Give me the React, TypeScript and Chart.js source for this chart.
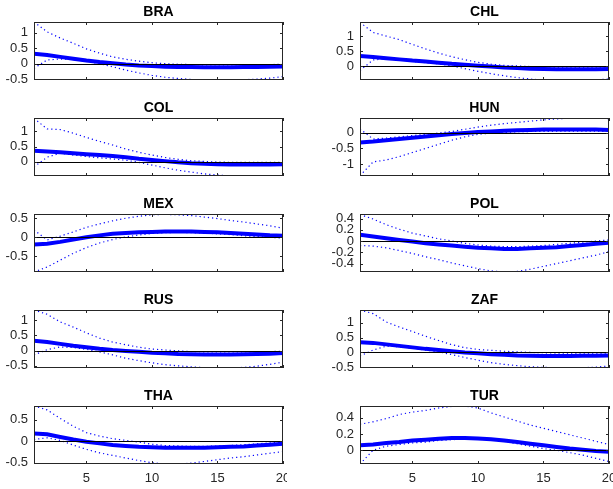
import React, { useEffect, useRef } from "react";
import { Chart, registerables } from "chart.js";

Chart.register(...registerables);

// ---------- data ----------
const horizons = [1, 2, 3, 4, 5, 6, 7, 8, 9, 10, 11, 12, 13, 14, 15, 16, 17, 18, 19, 20];
const xTicks = [5, 10, 15, 20];

const BRA_irf = [0.32, 0.28, 0.22, 0.16, 0.10, 0.05, 0.01, -0.03, -0.06, -0.08, -0.10, -0.11, -0.11, -0.12, -0.12, -0.12, -0.11, -0.11, -0.10, -0.09];
const BRA_upper = [1.35, 1.03, 0.83, 0.66, 0.48, 0.34, 0.22, 0.14, 0.08, 0.03, 0.0, -0.02, -0.03, -0.04, -0.04, -0.04, -0.04, -0.03, -0.03, -0.02];
const BRA_lower = [-0.15, 0.12, 0.15, 0.13, 0.07, 0.0, -0.10, -0.21, -0.30, -0.38, -0.44, -0.48, -0.51, -0.53, -0.53, -0.53, -0.52, -0.50, -0.47, -0.42];
const BRA_range = [-0.53, 1.35];
const BRA_yTicks = [-0.5, 0, 0.5, 1];

const CHL_irf = [0.33, 0.30, 0.26, 0.22, 0.18, 0.15, 0.11, 0.07, 0.04, 0.01, -0.02, -0.05, -0.07, -0.09, -0.10, -0.11, -0.11, -0.11, -0.11, -0.10];
const CHL_upper = [1.46, 1.12, 1.0, 0.88, 0.72, 0.57, 0.43, 0.31, 0.21, 0.12, 0.06, 0.02, 0.0, -0.02, -0.03, -0.04, -0.04, -0.04, -0.04, -0.03];
const CHL_lower = [-0.15, 0.20, 0.24, 0.20, 0.15, 0.11, 0.07, 0.0, -0.09, -0.18, -0.26, -0.33, -0.39, -0.44, -0.47, -0.47, -0.47, -0.47, -0.46, -0.44];
const CHL_range = [-0.47, 1.47];
const CHL_yTicks = [0, 0.5, 1];

const COL_irf = [0.36, 0.34, 0.31, 0.28, 0.25, 0.22, 0.19, 0.15, 0.10, 0.06, 0.02, -0.02, -0.05, -0.07, -0.08, -0.09, -0.09, -0.09, -0.09, -0.08];
const COL_upper = [1.43, 1.08, 1.06, 0.94, 0.80, 0.67, 0.55, 0.42, 0.31, 0.22, 0.14, 0.08, 0.03, 0.01, -0.01, -0.02, -0.02, -0.02, -0.02, -0.02];
const COL_lower = [-0.17, 0.15, 0.28, 0.22, 0.17, 0.13, 0.09, 0.05, -0.02, -0.11, -0.20, -0.28, -0.34, -0.40, -0.44, -0.46, -0.47, -0.47, -0.47, -0.47];
const COL_range = [-0.47, 1.44];
const COL_yTicks = [0, 0.5, 1];

const HUN_irf = [-0.31, -0.28, -0.24, -0.20, -0.16, -0.12, -0.08, -0.04, -0.01, 0.02, 0.04, 0.06, 0.08, 0.09, 0.10, 0.10, 0.10, 0.10, 0.10, 0.09];
const HUN_upper = [0.12, -0.20, -0.17, -0.13, -0.09, -0.05, -0.01, 0.04, 0.11, 0.18, 0.24, 0.29, 0.33, 0.37, 0.41, 0.44, 0.46, 0.46, 0.46, 0.45];
const HUN_lower = [-1.37, -0.93, -0.87, -0.76, -0.63, -0.50, -0.37, -0.24, -0.13, -0.05, -0.01, 0.01, 0.03, 0.04, 0.04, 0.05, 0.05, 0.05, 0.05, 0.04];
const HUN_range = [-1.38, 0.47];
const HUN_yTicks = [-1, -0.5, 0];

const MEX_irf = [-0.19, -0.17, -0.12, -0.06, 0.0, 0.05, 0.09, 0.11, 0.13, 0.14, 0.15, 0.15, 0.15, 0.14, 0.13, 0.11, 0.09, 0.07, 0.05, 0.04];
const MEX_upper = [0.19, -0.07, 0.03, 0.14, 0.26, 0.35, 0.43, 0.50, 0.55, 0.59, 0.60, 0.59, 0.57, 0.53, 0.49, 0.44, 0.40, 0.35, 0.30, 0.24];
const MEX_lower = [-0.91, -0.78, -0.60, -0.42, -0.27, -0.15, -0.06, 0.01, 0.06, 0.10, 0.12, 0.13, 0.12, 0.11, 0.09, 0.07, 0.04, 0.02, 0.0, -0.02];
const MEX_range = [-0.91, 0.61];
const MEX_yTicks = [-0.5, 0, 0.5];

const POL_irf = [0.11, 0.08, 0.05, 0.02, -0.01, -0.04, -0.06, -0.08, -0.10, -0.12, -0.13, -0.14, -0.14, -0.13, -0.12, -0.11, -0.09, -0.07, -0.05, -0.03];
const POL_upper = [0.47, 0.39, 0.29, 0.21, 0.14, 0.09, 0.04, 0.0, -0.04, -0.07, -0.09, -0.10, -0.10, -0.09, -0.08, -0.06, -0.04, -0.02, 0.0, 0.02];
const POL_lower = [-0.08, -0.09, -0.12, -0.17, -0.22, -0.28, -0.33, -0.39, -0.44, -0.49, -0.53, -0.55, -0.54, -0.50, -0.45, -0.40, -0.35, -0.30, -0.25, -0.19];
const POL_range = [-0.55, 0.48];
const POL_yTicks = [-0.4, -0.2, 0, 0.2, 0.4];

const RUS_irf = [0.32, 0.28, 0.22, 0.16, 0.11, 0.06, 0.02, -0.01, -0.04, -0.07, -0.09, -0.11, -0.12, -0.13, -0.13, -0.13, -0.12, -0.11, -0.10, -0.08];
const RUS_upper = [1.33, 1.19, 0.94, 0.77, 0.58, 0.41, 0.28, 0.19, 0.11, 0.05, 0.02, -0.01, -0.03, -0.04, -0.04, -0.04, -0.04, -0.04, -0.03, -0.02];
const RUS_lower = [-0.14, 0.03, 0.12, 0.10, 0.04, -0.04, -0.14, -0.25, -0.33, -0.40, -0.46, -0.50, -0.53, -0.56, -0.57, -0.57, -0.55, -0.51, -0.45, -0.38];
const RUS_range = [-0.57, 1.33];
const RUS_yTicks = [-0.5, 0, 0.5, 1];

const ZAF_irf = [0.34, 0.32, 0.27, 0.22, 0.17, 0.12, 0.08, 0.04, 0.0, -0.03, -0.06, -0.08, -0.10, -0.11, -0.12, -0.12, -0.12, -0.11, -0.11, -0.10];
const ZAF_upper = [1.42, 1.30, 1.02, 0.85, 0.70, 0.54, 0.40, 0.26, 0.16, 0.10, 0.07, 0.04, 0.02, 0.0, -0.01, -0.02, -0.02, -0.02, -0.02, -0.02];
const ZAF_lower = [-0.12, 0.08, 0.21, 0.19, 0.14, 0.08, 0.02, -0.07, -0.17, -0.26, -0.34, -0.40, -0.44, -0.48, -0.50, -0.51, -0.51, -0.51, -0.49, -0.45];
const ZAF_range = [-0.52, 1.42];
const ZAF_yTicks = [-0.5, 0, 0.5, 1];

const THA_irf = [0.18, 0.16, 0.10, 0.04, -0.01, -0.05, -0.09, -0.11, -0.13, -0.14, -0.15, -0.15, -0.15, -0.15, -0.14, -0.13, -0.12, -0.10, -0.08, -0.06];
const THA_upper = [0.82, 0.73, 0.53, 0.35, 0.20, 0.12, 0.06, 0.02, -0.02, -0.07, -0.10, -0.11, -0.12, -0.12, -0.11, -0.10, -0.08, -0.06, -0.04, -0.02];
const THA_lower = [0.04, 0.08, 0.02, -0.09, -0.19, -0.27, -0.33, -0.39, -0.45, -0.50, -0.53, -0.53, -0.51, -0.47, -0.43, -0.39, -0.36, -0.32, -0.28, -0.24];
const THA_range = [-0.53, 0.82];
const THA_yTicks = [-0.5, 0, 0.5];

const TUR_irf = [0.06, 0.07, 0.09, 0.10, 0.12, 0.13, 0.14, 0.15, 0.15, 0.145, 0.135, 0.12, 0.10, 0.08, 0.06, 0.04, 0.02, 0.005, -0.01, -0.02];
const TUR_upper = [0.32, 0.35, 0.39, 0.44, 0.47, 0.49, 0.52, 0.54, 0.545, 0.52, 0.46, 0.41, 0.36, 0.31, 0.27, 0.23, 0.19, 0.15, 0.11, 0.07];
const TUR_lower = [-0.17, 0.0, 0.05, 0.07, 0.09, 0.10, 0.12, 0.13, 0.14, 0.14, 0.13, 0.11, 0.08, 0.05, 0.02, 0.0, -0.03, -0.06, -0.10, -0.14];
const TUR_range = [-0.17, 0.545];
const TUR_yTicks = [0, 0.2, 0.4];

type Panel = {
  name: string;
  irf: number[];
  upper: number[];
  lower: number[];
  range: number[];
  yTicks: number[];
};

const panels: Panel[] = [
  { name: "BRA", irf: BRA_irf, upper: BRA_upper, lower: BRA_lower, range: BRA_range, yTicks: BRA_yTicks },
  { name: "CHL", irf: CHL_irf, upper: CHL_upper, lower: CHL_lower, range: CHL_range, yTicks: CHL_yTicks },
  { name: "COL", irf: COL_irf, upper: COL_upper, lower: COL_lower, range: COL_range, yTicks: COL_yTicks },
  { name: "HUN", irf: HUN_irf, upper: HUN_upper, lower: HUN_lower, range: HUN_range, yTicks: HUN_yTicks },
  { name: "MEX", irf: MEX_irf, upper: MEX_upper, lower: MEX_lower, range: MEX_range, yTicks: MEX_yTicks },
  { name: "POL", irf: POL_irf, upper: POL_upper, lower: POL_lower, range: POL_range, yTicks: POL_yTicks },
  { name: "RUS", irf: RUS_irf, upper: RUS_upper, lower: RUS_lower, range: RUS_range, yTicks: RUS_yTicks },
  { name: "ZAF", irf: ZAF_irf, upper: ZAF_upper, lower: ZAF_lower, range: ZAF_range, yTicks: ZAF_yTicks },
  { name: "THA", irf: THA_irf, upper: THA_upper, lower: THA_lower, range: THA_range, yTicks: THA_yTicks },
  { name: "TUR", irf: TUR_irf, upper: TUR_upper, lower: TUR_lower, range: TUR_range, yTicks: TUR_yTicks },
];

// ---------- layout ----------
const FONT = '"Liberation Sans", Arial, Helvetica, sans-serif';
const COL_LEFT = [34, 360];
const ROW_TOP = [22, 118, 214, 310, 406];
const PLOT_W = 249;
const PLOT_H = 58;
const PAD_L = 34;
const PAD_T = 22;
const PAD_R = 4;
const PAD_B = 24;
const AXIS_COLOR = "#262626";
const TICK_LEN = 3;

function decorPlugin(p: Panel) {
  return {
    id: "panelDecor",
    afterDatasetsDraw(chart: any) {
      const { ctx, scales } = chart;
      const xs = scales.x;
      const ys = scales.y;
      const y0 = Math.round(ys.getPixelForValue(0)) + 0.5;
      ctx.save();
      ctx.strokeStyle = "#000";
      ctx.lineWidth = 1;
      ctx.beginPath();
      ctx.moveTo(xs.getPixelForValue(horizons[0]), y0);
      ctx.lineTo(xs.getPixelForValue(horizons[horizons.length - 1]), y0);
      ctx.stroke();
      ctx.restore();
    },
    afterDraw(chart: any) {
      const { ctx, chartArea: a, scales } = chart;
      const xs = scales.x;
      const ys = scales.y;
      ctx.save();
      ctx.strokeStyle = AXIS_COLOR;
      ctx.lineWidth = 1;
      ctx.strokeRect(a.left + 0.5, a.top + 0.5, a.right - a.left - 1, a.bottom - a.top - 1);
      ctx.beginPath();
      for (const v of xTicks) {
        const x = Math.round(xs.getPixelForValue(v)) + 0.5;
        ctx.moveTo(x, a.top);
        ctx.lineTo(x, a.top + TICK_LEN);
        ctx.moveTo(x, a.bottom);
        ctx.lineTo(x, a.bottom - TICK_LEN);
      }
      for (const v of p.yTicks) {
        const y = Math.round(ys.getPixelForValue(v)) + 0.5;
        ctx.moveTo(a.left, y);
        ctx.lineTo(a.left + TICK_LEN, y);
        ctx.moveTo(a.right, y);
        ctx.lineTo(a.right - TICK_LEN, y);
      }
      ctx.stroke();
      ctx.fillStyle = "#000";
      ctx.font = `bold 14px ${FONT}`;
      ctx.textAlign = "center";
      ctx.textBaseline = "middle";
      ctx.fillText(p.name, (a.left + a.right) / 2, a.top - 9.5);
      ctx.restore();
    },
  };
}

function toPoints(vals: number[]) {
  return horizons.map((h, i) => ({ x: h, y: vals[i] }));
}

export default function App() {
  const refs = useRef<(HTMLCanvasElement | null)[]>([]);

  useEffect(() => {
    const charts = panels.map((p, i) => {
      const canvas = refs.current[i] as HTMLCanvasElement;
      const row = Math.floor(i / 2);
      const isBottom = row === ROW_TOP.length - 1;
      return new Chart(canvas, {
        type: "line",
        data: {
          datasets: [
            {
              data: toPoints(p.upper),
              borderColor: "rgb(0,0,255)",
              borderWidth: 1.2,
              borderDash: [1.2, 3],
              pointRadius: 0,
              tension: 0,
              fill: false,
              order: 1,
            },
            {
              data: toPoints(p.lower),
              borderColor: "rgb(0,0,255)",
              borderWidth: 1.2,
              borderDash: [1.2, 3],
              pointRadius: 0,
              tension: 0,
              fill: false,
              order: 1,
            },
            {
              data: toPoints(p.irf),
              borderColor: "rgb(0,0,255)",
              borderWidth: 4,
              pointRadius: 0,
              tension: 0,
              fill: false,
              order: 2,
            },
          ],
        },
        options: {
          responsive: false,
          animation: false,
          devicePixelRatio: 1,
          events: [],
          layout: {
            autoPadding: false,
            padding: { left: 0, top: PAD_T, right: PAD_R, bottom: 0 },
          },
          plugins: {
            legend: { display: false },
            tooltip: { enabled: false },
            title: { display: false },
          },
          scales: {
            x: {
              type: "linear",
              min: horizons[0],
              max: horizons[horizons.length - 1],
              grid: { display: false, drawTicks: false },
              border: { display: false },
              ticks: {
                display: isBottom,
                padding: 7,
                color: AXIS_COLOR,
                font: { family: FONT, size: 13 },
                autoSkip: false,
                maxRotation: 0,
                callback: (v: any) => String(v),
              },
              afterBuildTicks: (scale: any) => {
                scale.ticks = xTicks.map((v) => ({ value: v }));
              },
              afterFit: (scale: any) => {
                scale.height = PAD_B;
                scale.paddingLeft = 0;
                scale.paddingRight = 0;
              },
            },
            y: {
              type: "linear",
              min: p.range[0],
              max: p.range[1],
              grid: { display: false, drawTicks: false },
              border: { display: false },
              ticks: {
                padding: 6,
                color: AXIS_COLOR,
                font: { family: FONT, size: 13 },
                autoSkip: false,
                callback: (v: any) => String(v),
              },
              afterBuildTicks: (scale: any) => {
                scale.ticks = p.yTicks.map((v) => ({ value: v }));
              },
              afterFit: (scale: any) => {
                scale.width = PAD_L;
                scale.paddingTop = 0;
                scale.paddingBottom = 0;
              },
            },
          },
        },
        plugins: [decorPlugin(p)],
      } as any);
    });
    return () => charts.forEach((c) => c.destroy());
  }, []);

  return (
    <div
      style={{
        position: "fixed",
        left: 0,
        top: 0,
        width: 613,
        height: 489,
        background: "#fff",
        overflow: "hidden",
      }}
    >
      {panels.map((p, i) => {
        const col = i % 2;
        const row = Math.floor(i / 2);
        const left = COL_LEFT[col] - PAD_L;
        const top = ROW_TOP[row] - PAD_T;
        const w = PLOT_W + PAD_L + PAD_R;
        const h = PLOT_H + PAD_T + PAD_B;
        return (
          <canvas
            key={p.name}
            ref={(el) => {
              refs.current[i] = el;
            }}
            width={w}
            height={h}
            style={{ position: "absolute", left, top, width: w, height: h }}
          />
        );
      })}
    </div>
  );
}
